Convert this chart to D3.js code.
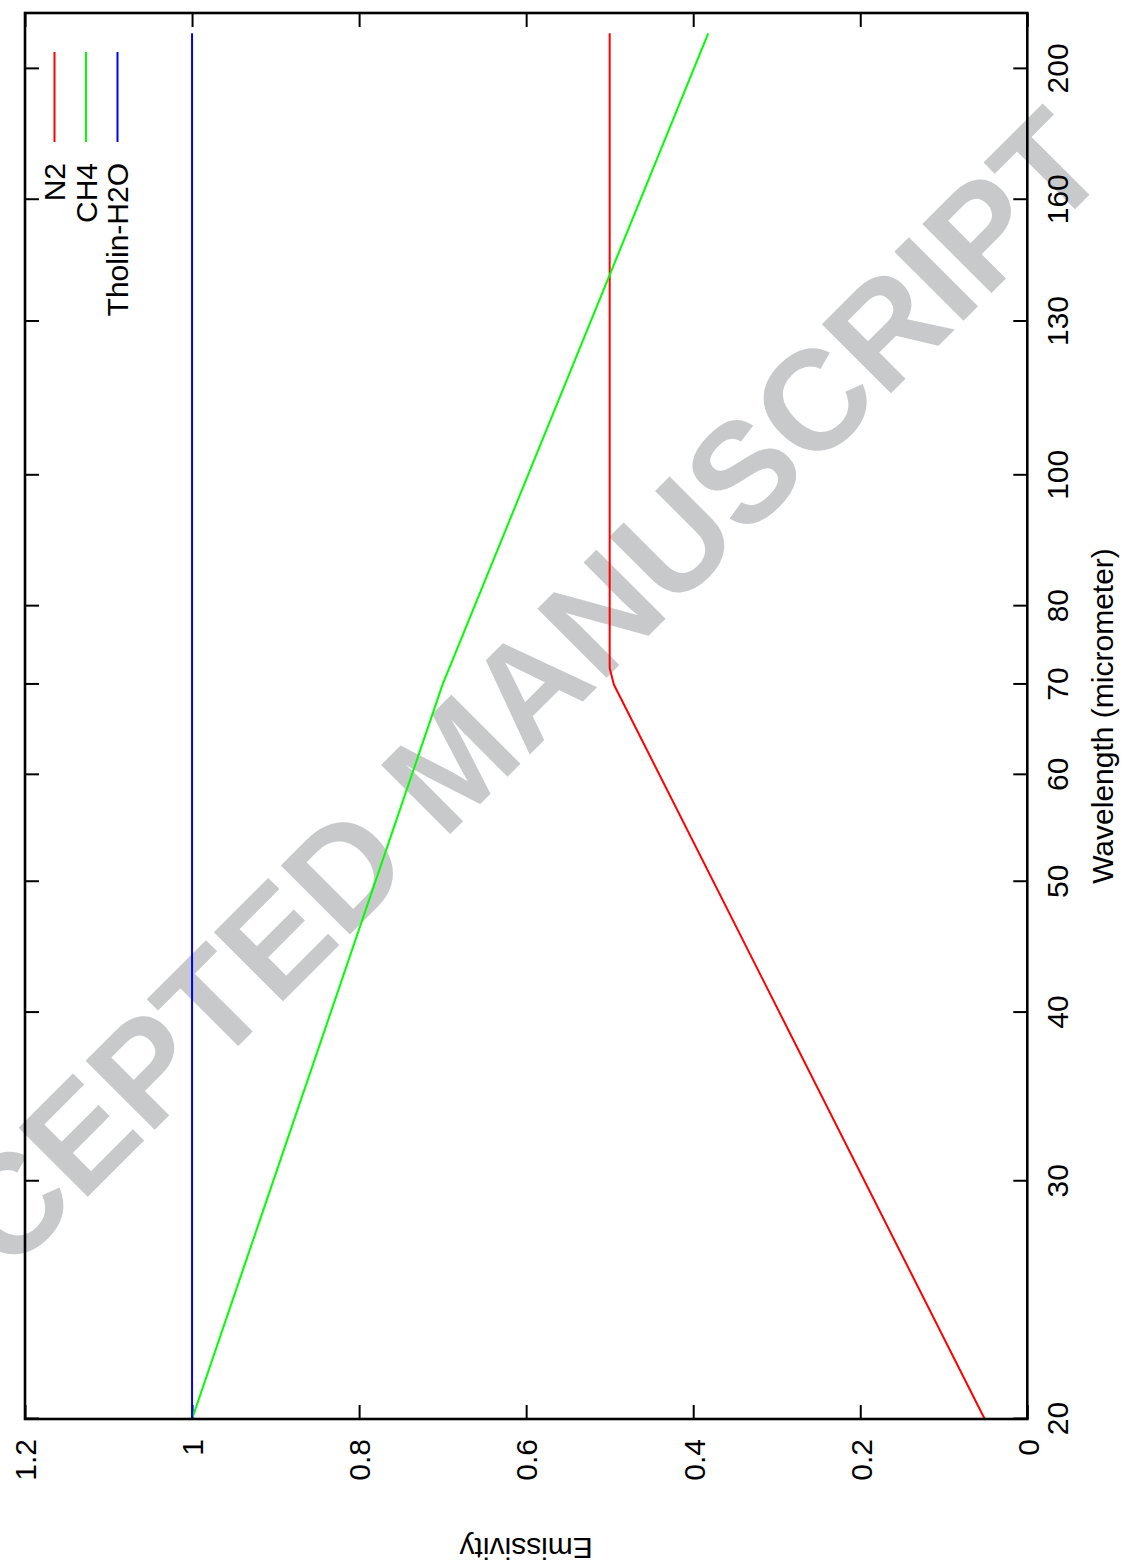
<!DOCTYPE html>
<html>
<head>
<meta charset="utf-8">
<script src="https://cdn.jsdelivr.net/npm/d3@7"></script>
<style>
  html, body { margin: 0; padding: 0; background: #fff; }
  svg { display: block; }
</style>
</head>
<body>
<svg id="chart" width="1127" height="1566"></svg>
<script>
// ---------- data ----------
const seriesNames = ["N2", "CH4", "Tholin-H2O"];
const seriesColors = ["#ff0000", "#00ff00", "#0000ff"];

const n2Wavelength = [20, 70, 72, 212.5];
const n2Emissivity = [0.051, 0.495, 0.5, 0.5];

const ch4Wavelength = [20, 70, 212.5];
const ch4Emissivity = [1.0, 0.70, 0.382];

const tholinWavelength = [20, 212.5];
const tholinEmissivity = [1.0, 1.0];

const wavelengthTicks = [20, 30, 40, 50, 60, 70, 80, 100, 130, 160, 200];
const wavelengthTickLabels = ["20", "30", "40", "50", "60", "70", "80", "100", "130", "160", "200"];
const emissivityTicks = [0, 0.2, 0.4, 0.6, 0.8, 1, 1.2];
const emissivityTickLabels = ["0", "0.2", "0.4", "0.6", "0.8", "1", "1.2"];

const xLabel = "Wavelength (micrometer)";
const yLabel = "Emissivity";
const watermark = "ACCEPTED MANUSCRIPT";

// ---------- drawing ----------
(function () {
const W = 1127, H = 1566;
const svg = d3.select("#chart");
svg.append("rect").attr("width", W).attr("height", H).attr("fill", "#fff");

const FONT = "'Liberation Sans', Arial, Helvetica, sans-serif";
const FS = 30;

// watermark (drawn beneath everything, in page coordinates)
svg.append("text")
  .attr("transform", "translate(452,760) rotate(-45)")
  .attr("text-anchor", "middle")
  .attr("dy", "0.36em")
  .attr("font-family", FONT)
  .attr("font-weight", "bold")
  .attr("font-size", 142)
  .attr("fill", "#c8c9cb")
  .text(watermark);

// The plot is a landscape page rotated 90° counter-clockwise.
const g = svg.append("g").attr("transform", `translate(0,${H}) rotate(-90)`);

const pL = 147, pR = 1553, pT = 25, pB = 1027.3;
const x = d3.scaleLog().domain([20, 220]).range([pL, pR]);
const y = d3.scaleLinear().domain([0, 1.2]).range([pB, pT]);

function styleAxis(sel, showText) {
  sel.select(".domain").remove();
  sel.selectAll(".tick line").attr("stroke", "#000").attr("stroke-width", 2);
  sel.selectAll(".tick text")
    .attr("font-family", FONT).attr("font-size", FS).attr("fill", "#000");
  if (!showText) sel.selectAll(".tick text").remove();
}

// wavelength axis (bottom in landscape frame)
const xLabelFmt = d => wavelengthTickLabels[wavelengthTicks.indexOf(d)];
g.append("g").attr("transform", `translate(0,${pB})`)
  .call(d3.axisBottom(x).tickValues(wavelengthTicks).tickFormat(xLabelFmt)
        .tickSizeInner(-14).tickSizeOuter(0).tickPadding(19.5))
  .call(s => styleAxis(s, true));
g.append("g").attr("transform", `translate(0,${pT})`)
  .call(d3.axisTop(x).tickValues(wavelengthTicks).tickFormat("")
        .tickSizeInner(-14).tickSizeOuter(0))
  .call(s => styleAxis(s, false));

// emissivity axis (left in landscape frame)
const yLabelFmt = d => emissivityTickLabels[emissivityTicks.indexOf(d)];
g.append("g").attr("transform", `translate(${pL},0)`)
  .call(d3.axisLeft(y).tickValues(emissivityTicks).tickFormat(yLabelFmt)
        .tickSizeInner(-14).tickSizeOuter(0).tickPadding(20))
  .call(s => { styleAxis(s, true); s.selectAll(".tick text").attr("dy", "0.36em"); });
g.append("g").attr("transform", `translate(${pR},0)`)
  .call(d3.axisRight(y).tickValues(emissivityTicks).tickFormat("")
        .tickSizeInner(-14).tickSizeOuter(0))
  .call(s => styleAxis(s, false));

// series lines
const series = [
  { w: n2Wavelength, e: n2Emissivity },
  { w: ch4Wavelength, e: ch4Emissivity },
  { w: tholinWavelength, e: tholinEmissivity }
];
const line = d3.line().x(d => x(d[0])).y(d => y(d[1]));
series.forEach((s, i) => {
  const pts = s.w.map((w, k) => [w, s.e[k]]);
  g.append("path").attr("d", line(pts))
    .attr("fill", "none").attr("stroke", seriesColors[i])
    .attr("stroke-width", 2).attr("stroke-linejoin", "round");
});

// border
g.append("rect")
  .attr("x", pL).attr("y", pT)
  .attr("width", pR - pL).attr("height", pB - pT)
  .attr("fill", "none").attr("stroke", "#000").attr("stroke-width", 2.6);

// axis titles
g.append("text")
  .attr("x", (pL + pR) / 2).attr("y", 1113)
  .attr("text-anchor", "middle")
  .attr("font-family", FONT).attr("font-size", FS).attr("fill", "#000")
  .text(xLabel);
g.append("text")
  .attr("transform", `translate(28,${(pT + pB) / 2}) rotate(-90)`)
  .attr("text-anchor", "middle")
  .attr("font-family", FONT).attr("font-size", FS).attr("fill", "#000")
  .text(yLabel);

// legend (top-right in landscape frame)
const legend = g.append("g");
seriesNames.forEach((name, i) => {
  const yc = 54.5 + i * 31.5;
  legend.append("text")
    .attr("x", 1403).attr("y", yc).attr("dy", "0.36em")
    .attr("text-anchor", "end")
    .attr("font-family", FONT).attr("font-size", FS).attr("fill", "#000")
    .text(name);
  legend.append("line")
    .attr("x1", 1424).attr("x2", 1514).attr("y1", yc).attr("y2", yc)
    .attr("stroke", seriesColors[i]).attr("stroke-width", 2);
});
})();
</script>
</body>
</html>
